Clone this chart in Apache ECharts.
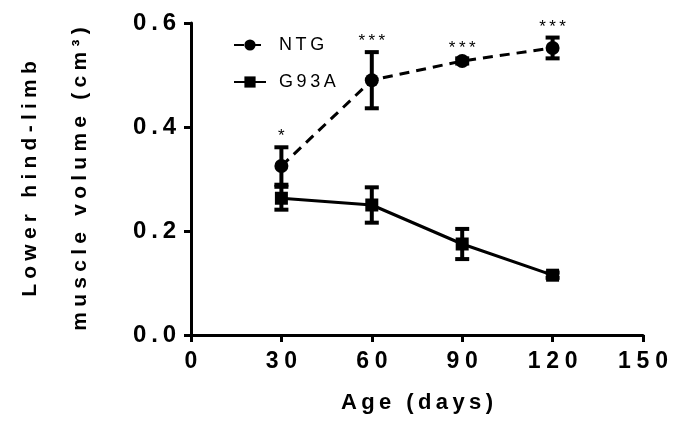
<!DOCTYPE html>
<html>
<head>
<meta charset="utf-8">
<script src="https://cdn.jsdelivr.net/npm/echarts@6/dist/echarts.min.js"></script>
<style>
  html, body { margin: 0; padding: 0; background: #fff; }
  #chart { width: 692px; height: 421px; }
</style>
</head>
<body>
<div id="chart"></div>
<script>
// values
const ages = [30, 60, 90, 120]
const ntgMean = [0.325, 0.49, 0.527, 0.552]
const ntgErr = [0.036, 0.054, 0.005, 0.02]
const g93aMean = [0.263, 0.25, 0.175, 0.115]
const g93aErr = [0.022, 0.034, 0.029, 0.005]
const sigLabels = ['*', '***', '***', '***']

const FONT = '"Liberation Sans", Arial, sans-serif'

// the original has very wide tracking
const spaced = (s, ch) => s.split('').join(ch)

const errorBars = (means, errs, labels) => ages.map((a, i) => [a, means[i], errs[i], labels ? labels[i] : ''])

const renderErr = (params, api) => {
  const x = api.value(0)
  const y = api.value(1)
  const e = api.value(2)
  const lab = api.value(3)
  const top = api.coord([x, y + e])
  const bot = api.coord([x, y - e])
  const hw = 7
  const st = { stroke: '#000', lineWidth: 4 }
  const kids = [
    { type: 'line', shape: { x1: top[0], y1: top[1], x2: bot[0], y2: bot[1] }, style: st },
    { type: 'line', shape: { x1: top[0] - hw, y1: top[1], x2: top[0] + hw, y2: top[1] }, style: st },
    { type: 'line', shape: { x1: bot[0] - hw, y1: bot[1], x2: bot[0] + hw, y2: bot[1] }, style: st }
  ]
  if (lab) {
    kids.push({
      type: 'text',
      style: {
        x: top[0], y: top[1] - 2,
        text: spaced(String(lab), '\u2009'),
        fill: '#000', font: '17px ' + FONT,
        align: 'center', verticalAlign: 'bottom'
      }
    })
  }
  return { type: 'group', children: kids }
}

const chart = echarts.init(document.getElementById('chart'))

const option = {
  animation: false,
  backgroundColor: '#fff',
  grid: { left: 191, right: 49, top: 23, bottom: 86, containLabel: false, outerBoundsMode: 'none' },
  legend: {
    orient: 'vertical',
    left: 228,
    top: 31,
    itemWidth: 32,
    itemHeight: 14,
    itemGap: 19,
    data: ['NTG', 'G93A'],
    textStyle: { color: '#000', fontSize: 18, fontFamily: FONT, padding: [0, 0, 0, 8] },
    formatter: (n) => spaced(n, '\u2009')
  },
  xAxis: {
    type: 'value',
    min: 0,
    max: 150,
    interval: 30,
    splitLine: { show: false },
    axisLine: { lineStyle: { color: '#000', width: 3 } },
    axisTick: { length: 7, lineStyle: { color: '#000', width: 3 } },
    axisLabel: {
      margin: 15,
      color: '#000',
      fontSize: 23,
      fontWeight: 'bold',
      fontFamily: FONT,
      formatter: (v) => spaced(String(v), '\u2005')
    },
    name: spaced('Age (days)', '\u2009'),
    nameLocation: 'middle',
    nameGap: 57,
    nameTextStyle: { color: '#000', fontSize: 22, fontWeight: 'bold', fontFamily: FONT }
  },
  yAxis: {
    type: 'value',
    min: 0,
    max: 0.6,
    interval: 0.2,
    splitLine: { show: false },
    axisLine: { lineStyle: { color: '#000', width: 3 } },
    axisTick: { length: 7, lineStyle: { color: '#000', width: 3 } },
    axisLabel: {
      margin: 15,
      color: '#000',
      fontSize: 24,
      fontWeight: 'bold',
      fontFamily: FONT,
      formatter: (v) => spaced(v.toFixed(1), '\u2009')
    },
    name: spaced('Lower hind-limb', '\u2005') + '\n' + spaced('muscle volume (cm³)', '\u2005'),
    nameLocation: 'middle',
    nameRotate: 90,
    nameGap: 86,
    nameTextStyle: { color: '#000', fontSize: 21, fontWeight: 'bold', fontFamily: FONT, lineHeight: 50 }
  },
  series: [
    {
      name: 'NTG',
      type: 'line',
      data: ages.map((a, i) => [a, ntgMean[i]]),
      symbol: 'circle',
      symbolSize: 14,
      itemStyle: { color: '#000' },
      lineStyle: { color: '#000', width: 3, type: [10, 7] },
      z: 3
    },
    {
      name: 'G93A',
      type: 'line',
      data: ages.map((a, i) => [a, g93aMean[i]]),
      symbol: 'rect',
      symbolSize: 13,
      itemStyle: { color: '#000' },
      lineStyle: { color: '#000', width: 3 },
      z: 3
    },
    {
      type: 'custom',
      renderItem: renderErr,
      data: errorBars(ntgMean, ntgErr, sigLabels),
      z: 4
    },
    {
      type: 'custom',
      renderItem: renderErr,
      data: errorBars(g93aMean, g93aErr),
      z: 4
    }
  ]
}

chart.setOption(option)
</script>
</body>
</html>
